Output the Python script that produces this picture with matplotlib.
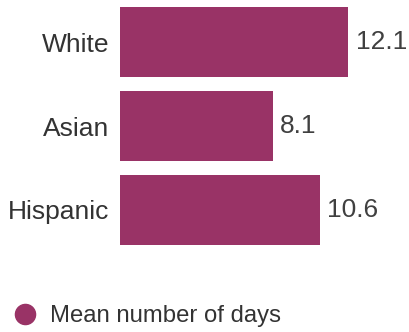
import matplotlib
matplotlib.use("Agg")
import matplotlib.pyplot as plt
from matplotlib.lines import Line2D

categories = ["White", "Asian", "Hispanic"]
values = [12.1, 8.1, 10.6]
series_name = "Mean number of days"
bar_color = "#993366"

plt.rcParams['font.family'] = ['Liberation Sans', 'DejaVu Sans']

W, H = 409, 332
fig = plt.figure(figsize=(W / 100, H / 100), dpi=100)
ax = fig.add_axes([120 / W, 1 - 252 / H, (W - 120) / W, 252 / H])

px_per_unit = 228 / 12.1
ax.set_xlim(0, (W - 120) / px_per_unit)
ax.set_ylim(2.5, -0.5)

ypos = list(range(len(categories)))
bars = ax.barh(ypos, values, height=0.833, color=bar_color)
ax.bar_label(bars, labels=[f"{v:.1f}" for v in values], padding=5.5,
             fontsize=19, color="#404040")

ax.set_yticks(ypos)
ax.set_yticklabels(categories, fontsize=19, color="#333333")
ax.tick_params(axis='y', length=0, pad=7.5)
ax.set_xticks([])
for s in ax.spines.values():
    s.set_visible(False)
ax.patch.set_visible(False)

handle = Line2D([], [], marker='o', ls='', color=bar_color, markersize=14.5)
fig.legend([handle], [series_name], loc='center left',
           bbox_to_anchor=(13.2 / W, 1 - 316 / H), frameon=False,
           fontsize=17.2, handlelength=1.0, handletextpad=0.56,
           borderpad=0, borderaxespad=0, labelcolor="#333333")

fig.savefig("out.png", dpi=100)
